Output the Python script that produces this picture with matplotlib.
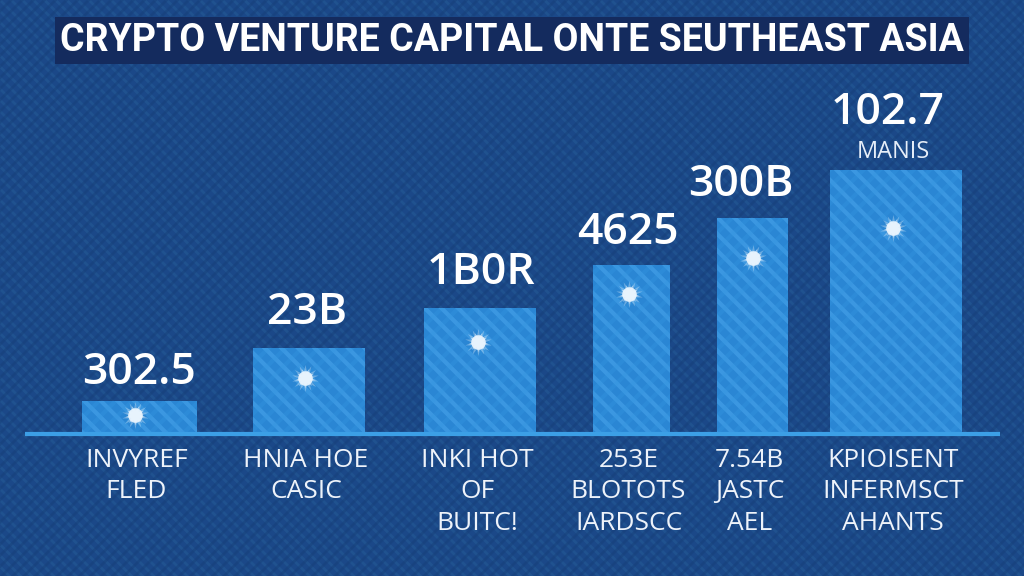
import matplotlib
matplotlib.use("Agg")
import matplotlib.pyplot as plt
from matplotlib.patches import Rectangle
from matplotlib import font_manager

# ---- data ----
categories = ["INVYREF\nFLED", "HNIA HOE\nCASIC", "INKI HOT\nOF\nBUITC!",
              "253E\nBLOTOTS\nIARDSCC", "7.54B\nJASTC\nAEL",
              "KPIOISENT\nINFERMSCT\nAHANTS"]
values = [33, 86, 126, 169, 216, 264]
value_labels = ["302.5", "23B", "1B0R", "4625", "300B", "102.7"]
extra_label = "MANIS"
title = "CRYPTO VENTURE CAPITAL ONTE SEUTHEAST ASIA"

# ---- layout (pixel-like data units) ----
centers = [139.5, 309, 480, 631.5, 752.5, 896]
widths = [115, 112, 112, 77, 71, 132]
icon_drop = [14, 30, 34, 29, 40, 58]
icon_dx = [-5, -4, -2, -3, 0, -3]
val_offsets = [29, 36, 36, 33, 33, 58]
val_dx = [0, -2, 1, -4, -12, -8]

BG = "#1b4888"
BAR = "#2a86d4"
STRIPE = "#4aa6ec"
LINE = "#3c9fe6"

def pick(fams):
    names = {f.name for f in font_manager.fontManager.ttflist}
    for f in fams:
        if f in names:
            return f
    return "DejaVu Sans"

title_font = pick(["Liberation Sans Narrow", "Roboto", "Open Sans"])
val_font = pick(["Open Sans", "Noto Sans", "DejaVu Sans"])
cat_font = pick(["Open Sans", "Noto Sans", "DejaVu Sans"])

plt.rcParams["hatch.linewidth"] = 2.0

fig = plt.figure(figsize=(10.24, 5.76), dpi=100)
fig.patch.set_facecolor(BG)
ax = fig.add_axes([0, 0, 1, 1])
ax.set_facecolor(BG)
ax.set_xlim(0, 1024)
ax.set_ylim(-142, 434)
ax.axis("off")

# background texture
ax.add_patch(Rectangle((0, 0), 1, 1, transform=ax.transAxes, facecolor="none",
                       edgecolor="#20528f", hatch="\\\\\\", linewidth=0, zorder=0))
ax.add_patch(Rectangle((0, 0), 1, 1, transform=ax.transAxes, facecolor="none",
                       edgecolor="#17407a", hatch="///", linewidth=0, zorder=0, alpha=0.5))

# bars
ax.bar(centers, values, width=widths, color=BAR, linewidth=0, zorder=2)
plt.rcParams["hatch.linewidth"] = 3.0
ax.bar(centers, values, width=widths, facecolor="none", edgecolor=STRIPE,
       hatch="\\\\", linewidth=0, zorder=3, alpha=0.55)
ax.bar(centers, values, width=widths, facecolor="none", edgecolor="#3596e0",
       hatch="//", linewidth=0, zorder=3, alpha=0.35)

# icons
for c, v, d, dx in zip(centers, values, icon_drop, icon_dx):
    y = v - d
    ax.scatter([c + dx], [y], s=380, marker=(14, 1, 0), color="white", alpha=0.3, zorder=4, linewidths=0)
    ax.scatter([c + dx], [y], s=200, marker=(9, 1, 20), color="#dff0ff", alpha=0.55, zorder=4, linewidths=0)
    ax.scatter([c + dx], [y], s=110, marker="o", color="#eef7ff", alpha=0.9, zorder=5, linewidths=0)

# baseline
ax.plot([25, 1000], [0, 0], color=LINE, linewidth=3, zorder=4, solid_capstyle="butt")

# value labels
for c, v, lab, off, dx in zip(centers, values, value_labels, val_offsets, val_dx):
    ax.text(c + dx, v + off, lab, ha="center", va="center",
            fontsize=32, color="white", fontfamily=val_font, fontweight="semibold", zorder=6)
ax.text(centers[-1] - 3, values[-1] + 18, extra_label, ha="center", va="center",
        fontsize=17, color="#e6eef8", fontfamily=val_font, fontweight="medium", zorder=6)

# category labels
for c, cat in zip(centers, categories):
    ax.text(c - 3, -14, cat, ha="center", va="top", fontsize=19, color="#eef3fa",
            fontfamily=cat_font, linespacing=1.33, zorder=6)

# title
fig.text(0.5, 0.9295, title, ha="center", va="center", fontsize=27, color="white",
         fontfamily=title_font, fontweight="bold",
         bbox=dict(boxstyle="square,pad=0.14", facecolor="#142b5e", edgecolor="none"))

fig.savefig("out.png", dpi=100, facecolor=BG)
